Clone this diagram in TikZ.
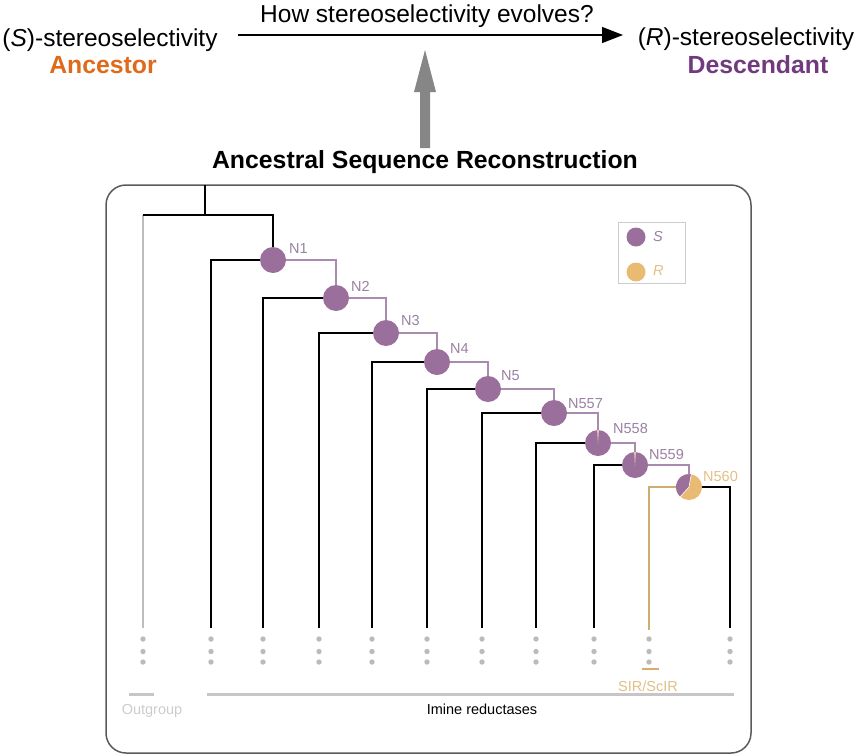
\documentclass[tikz,border=0pt]{standalone}
\usepackage{fontspec}
\setmainfont{Liberation Sans}
\usetikzlibrary{arrows.meta}
\definecolor{pnode}{HTML}{9B6F9C}
\definecolor{pline}{HTML}{A88BAE}
\definecolor{plabel}{HTML}{9A80A2}
\definecolor{onode}{HTML}{E9BA72}
\definecolor{oline}{HTML}{CDAE6E}
\definecolor{olabel}{HTML}{E2BF84}
\definecolor{obar}{HTML}{D9AC6E}
\definecolor{pinkw}{HTML}{E9C2B4}
\definecolor{dotgray}{HTML}{BBBBBB}
\definecolor{bargray}{HTML}{C6C6C6}
\definecolor{outgray}{HTML}{BDBDBD}
\definecolor{ancestor}{HTML}{DF6A1B}
\definecolor{descendant}{HTML}{713A7F}
\definecolor{arrowgray}{HTML}{868686}
\definecolor{boxgray}{HTML}{5A5A5A}
\definecolor{leggray}{HTML}{CCCCCC}
\begin{document}
\begin{tikzpicture}[x=1pt,y=-1pt,
  big/.style={font=\fontsize{24.5}{28}\selectfont, inner sep=0pt},
  bigb/.style={font=\fontsize{24.8}{28}\selectfont\bfseries, inner sep=0pt},
  lbl/.style={font=\fontsize{14.5}{16}\selectfont, text=plabel, inner sep=0pt, anchor=west},
  small/.style={font=\fontsize{14.5}{16}\selectfont, inner sep=0pt},
  anc/.style={circle, fill=pnode, minimum size=26pt, inner sep=0pt},
  blk/.style={line width=1.8pt, black},
  pur/.style={line width=1.4pt, pline},
  dotst/.style={fill=dotgray}
]
\useasboundingbox (0,0) rectangle (859,755);

% ---------- top row ----------
\node[big, anchor=base] (stext) at (110,46) {(\textit{S})-stereoselectivity};
\node[bigb, anchor=base, text=ancestor] (anctext) at (103,73) {Ancestor};
\node[big, anchor=base] (rtext) at (746,45) {(\textit{R})-stereoselectivity};
\node[bigb, anchor=base, text=descendant] (desctext) at (758,73) {Descendant};
\node[big, anchor=base] (how) at (427,22) {How stereoselectivity evolves?};
\coordinate (arrA) at (238,35);
\coordinate (arrB) at (623,35);
\draw[line width=1.3pt, -{Triangle[length=21pt,width=16pt]}] (arrA) -- (arrB);

\node[bigb, anchor=base] (asr) at (425,168) {Ancestral Sequence Reconstruction};
\fill[arrowgray] (420,148) -- (420,92) -- (414,92) -- (425,50) -- (436,92) -- (430,92) -- (430,148) -- cycle;

% ---------- box ----------
\draw[rounded corners=20pt, line width=1.5pt, boxgray] (106,185) rectangle (751,753);

% ---------- leaves ----------
\coordinate (R0) at (205,185);
\coordinate (R1) at (205,215);
\coordinate (RO) at (143,215);
\coordinate (LO) at (143,628);
\coordinate (L1) at (211,628);
\coordinate (L2) at (263,628);
\coordinate (L3) at (319,628);
\coordinate (L4) at (372,628);
\coordinate (L5) at (427,628);
\coordinate (L6) at (482,628);
\coordinate (L7) at (536,628);
\coordinate (L8) at (594,628);
\coordinate (L9) at (649,630);
\coordinate (L10) at (730,628);

% ---------- ancestral nodes ----------
\node[anc] (N1) at (273,260) {};
\node[anc] (N2) at (336,298) {};
\node[anc] (N3) at (386,333) {};
\node[anc] (N4) at (437,362) {};
\node[anc] (N5) at (488,389) {};
\node[anc] (N557) at (554,413) {};
\node[anc] (N558) at (598,443) {};
\node[anc] (N559) at (635,465) {};
\node[anc, fill=onode] (N560) at (689,487) {};

% ---------- branches ----------
\draw[line width=1.8pt, outgray] (LO) -- (RO);
\draw[blk] (R0) -- (R1);
\draw[blk] (RO) -- (R1);
\draw[blk] (R1) -| (N1.north);
\draw[blk] (N1.west) -| (L1);
\draw[blk] (N2.west) -| (L2);
\draw[blk] (N3.west) -| (L3);
\draw[blk] (N4.west) -| (L4);
\draw[blk] (N5.west) -| (L5);
\draw[blk] (N557.west) -| (L6);
\draw[blk] (N558.west) -| (L7);
\draw[blk] (N559.west) -| (L8);
\draw[line width=1.6pt, oline] (N560.west) -| (L9);
\draw[blk] (N560.east) -| (L10);

\draw[pur] (N1.east) -| (N2.north);
\draw[pur] (N2.east) -| (N3.north);
\draw[pur] (N3.east) -| (N4.north);
\draw[pur] (N4.east) -| (N5.north);
\draw[pur] (N5.east) -| (N557.north);
\draw[pur] (N557.east) -| (N558.north);
\draw[pur] (N558.east) -| (N559.north);
\draw[pur] (N559.east) -| (N560.north);

% ---------- pie wedges ----------
\begin{scope}[shift={(N558.center)}, yscale=-1]
  \fill[pinkw] (0,-1) -- (86:13) arc[start angle=86, end angle=94, radius=13] -- cycle;
\end{scope}
\begin{scope}[shift={(N559.center)}, yscale=-1]
  \fill[pinkw] (0,-1) -- (86:13) arc[start angle=86, end angle=94, radius=13] -- cycle;
\end{scope}
\begin{scope}[shift={(N560.center)}, yscale=-1]
  \fill[pnode] (0,0) -- (80:13) arc[start angle=80, end angle=228, radius=13] -- cycle;
  \draw[white, line width=0.6pt] (80:13) -- (0,0) -- (228:13);
\end{scope}

% ---------- node labels ----------
\node[lbl] at (289,249) {N1};
\node[lbl] at (351,286) {N2};
\node[lbl] at (401,321) {N3};
\node[lbl] at (450,349) {N4};
\node[lbl] at (501,376) {N5};
\node[lbl] at (568,404) {N557};
\node[lbl] at (613,429) {N558};
\node[lbl] at (649,455) {N559};
\node[lbl, text=olabel] at (703,477) {N560};

% ---------- dots ----------
\foreach \lx in {143,211,263,319,372,427,482,536,594,649,730} {
  \fill[dotst] (\lx,639) circle[radius=2.7];
  \fill[dotst] (\lx,651.5) circle[radius=2.7];
  \fill[dotst] (\lx,662) circle[radius=2.7];
}

% ---------- bars and group labels ----------
\draw[line width=2.8pt, obar] (642,669) -- (659,669);
\node[small, text=olabel, anchor=base] (sir) at (648,691) {SIR/ScIR};
\draw[line width=3pt, bargray] (129,694) -- (154,694);
\draw[line width=3pt, bargray] (207,694) -- (734,694);
\node[small, text=leggray, anchor=base] (outg) at (152,714) {Outgroup};
\node[small, anchor=base] (imine) at (482,714) {Imine reductases};

% ---------- legend ----------
\draw[line width=0.8pt, leggray] (618,222) rectangle (685,283);
\node[circle, fill=pnode, minimum size=19pt, inner sep=0pt] (legS) at (636,237) {};
\node[circle, fill=onode, minimum size=19pt, inner sep=0pt] (legR) at (636,272) {};
\node[small, text=plabel, anchor=west] (legSt) at (653,237) {\textit{S}};
\node[small, text=olabel, anchor=west] (legRt) at (653,271) {\textit{R}};
\end{tikzpicture}
\end{document}
